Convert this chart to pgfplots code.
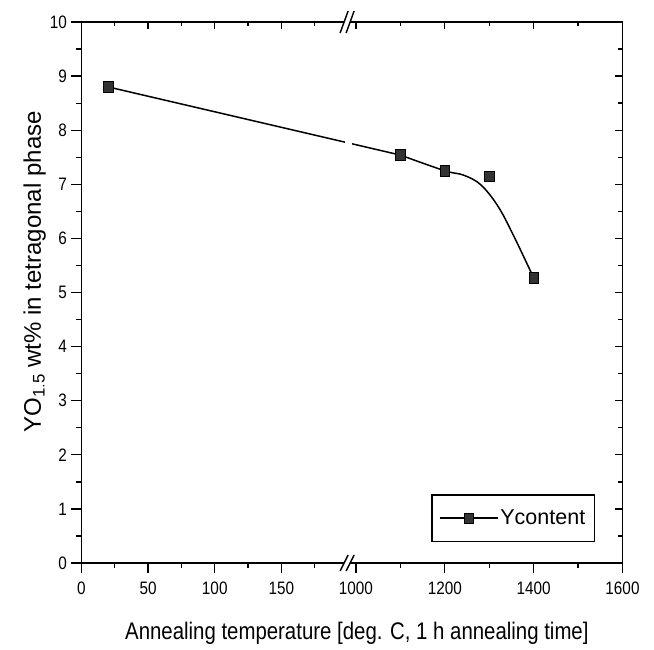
\documentclass[border=0pt]{standalone}
\usepackage{fontspec}
\setmainfont{Liberation Sans}
\newfontfamily\narrowfont{Liberation Sans}[FakeStretch=0.85]
\usepackage{pgfplots}
\pgfplotsset{compat=1.18}

% Ycontent measurements (temperature in deg. C, YO1.5 wt%)
\pgfplotstableread{
T     Y
20    8.80
1100  7.54
1200  7.25
1300  7.15
1400  5.27
}\ycontent

% drawn trend curve
\pgfplotstableread{
T     Y
1100  7.54
1200  7.25
1242  7.17
1281  6.99
1320  6.59
1356  6.03
1400  5.27
}\ytrend

\pgfplotsset{
  brokenx/.style={
    width=541pt, height=541pt, scale only axis,
    % 0..200 keeps its own scale, 1000..1600 is compressed behind the break
    x coord trafo/.code={\pgfmathparse{ifthenelse(##1<500,##1,206+(##1-1000)/3)}},
    xmin=0, xmax=1600, ymin=0, ymax=10,
    xtick={0,50,100,150,1000,1200,1400,1600},
    minor xtick={25,75,125,175,1100,1300,1500},
    ytick={0,1,...,10},
    minor ytick={0.5,1.5,...,9.5},
    axis line style={line width=1.6pt},
    every tick/.style={black, line width=1.3pt},
    clip=false,
  },
}
\tikzset{breakmark/.style={line width=1.4pt}}

\begin{document}
\begin{tikzpicture}
% top and right frame ticks point inwards
\begin{axis}[brokenx,
  xtick pos=right, ytick pos=right, tick align=inside,
  major tick length=7pt, minor tick length=4pt,
  xticklabels={}, yticklabels={}]
\end{axis}

\begin{axis}[brokenx,
  xtick pos=left, ytick pos=left, tick align=outside,
  major tick length=10pt, minor tick length=5pt,
  xticklabels={0,50,100,150,1000,1200,1400,1600},
  /pgf/number format/assume math mode=true,
  ticklabel style={font=\narrowfont\fontsize{18}{20}\selectfont},
  xticklabel style={inner sep=0pt, anchor=north, yshift=-9pt},
  yticklabel style={inner sep=0pt, anchor=east, xshift=-4.5pt},
  xlabel={Annealing temperature [deg. C, 1 h annealing time]},
  xlabel style={font=\narrowfont\fontsize{24}{28}\selectfont, inner sep=0pt,
    at={(axis description cs:0.509,-0.109)}, anchor=north},
  ylabel={YO$_{\mathrm{1.5}}$ wt\% in tetragonal phase},
  ylabel style={font=\fontsize{24}{28}\selectfont, inner sep=0pt,
    at={(axis description cs:-0.0656,0.538)}, anchor=south},
  legend style={at={(rel axis cs:0.949,0.039)}, anchor=south east,
    draw=black, line width=1.3pt, inner xsep=7pt, inner ysep=13pt,
    font=\fontsize{21.5}{24}\selectfont},
  legend image code/.code={%
    \draw[black, line width=1.5pt] (0pt,0pt) -- (58pt,0pt);
    \filldraw[draw=black, fill=black!80, line width=0.6pt]
      (24.5pt,-5pt) rectangle (33.5pt,5pt);},
]
\addplot[black, line width=1.5pt] coordinates {(20,8.80) (1100,7.54)};
\addplot[black, line width=1.5pt, smooth, tension=0.6] table[x=T, y=Y] {\ytrend};
% gap in the trend line where the axis is broken
\fill[white] (rel axis cs:0.487,0.755) rectangle (rel axis cs:0.500,0.79);
\addplot[only marks, mark=square*, mark size=5.3pt,
  mark options={draw=black, fill=black!80, xscale=0.9, line width=0.6pt}]
  table[x=T, y=Y] {\ycontent};
\addlegendentry{Ycontent}

% axis break marks on the bottom frame line
\fill[white] ([xshift=-7pt,yshift=-8pt]rel axis cs:0.491,0)
  -- ++(8pt,16pt) -- ++(6pt,0pt) -- ++(-8pt,-16pt) -- cycle;
\draw[breakmark] ([xshift=-7pt,yshift=-8pt]rel axis cs:0.491,0) -- ++(8pt,16pt);
\draw[breakmark] ([xshift=-1pt,yshift=-8pt]rel axis cs:0.491,0) -- ++(8pt,16pt);
% and on the top frame line
\fill[white] ([xshift=-7pt,yshift=-11pt]rel axis cs:0.491,1)
  -- ++(8pt,22pt) -- ++(6pt,0pt) -- ++(-8pt,-22pt) -- cycle;
\draw[breakmark] ([xshift=-7pt,yshift=-11pt]rel axis cs:0.491,1) -- ++(8pt,22pt);
\draw[breakmark] ([xshift=-1pt,yshift=-11pt]rel axis cs:0.491,1) -- ++(8pt,22pt);
\end{axis}
\path ([shift={(-81.5pt,-86pt)}]current axis.south west)
  rectangle ([shift={(572.5pt,563pt)}]current axis.south west);
\end{tikzpicture}
\end{document}
